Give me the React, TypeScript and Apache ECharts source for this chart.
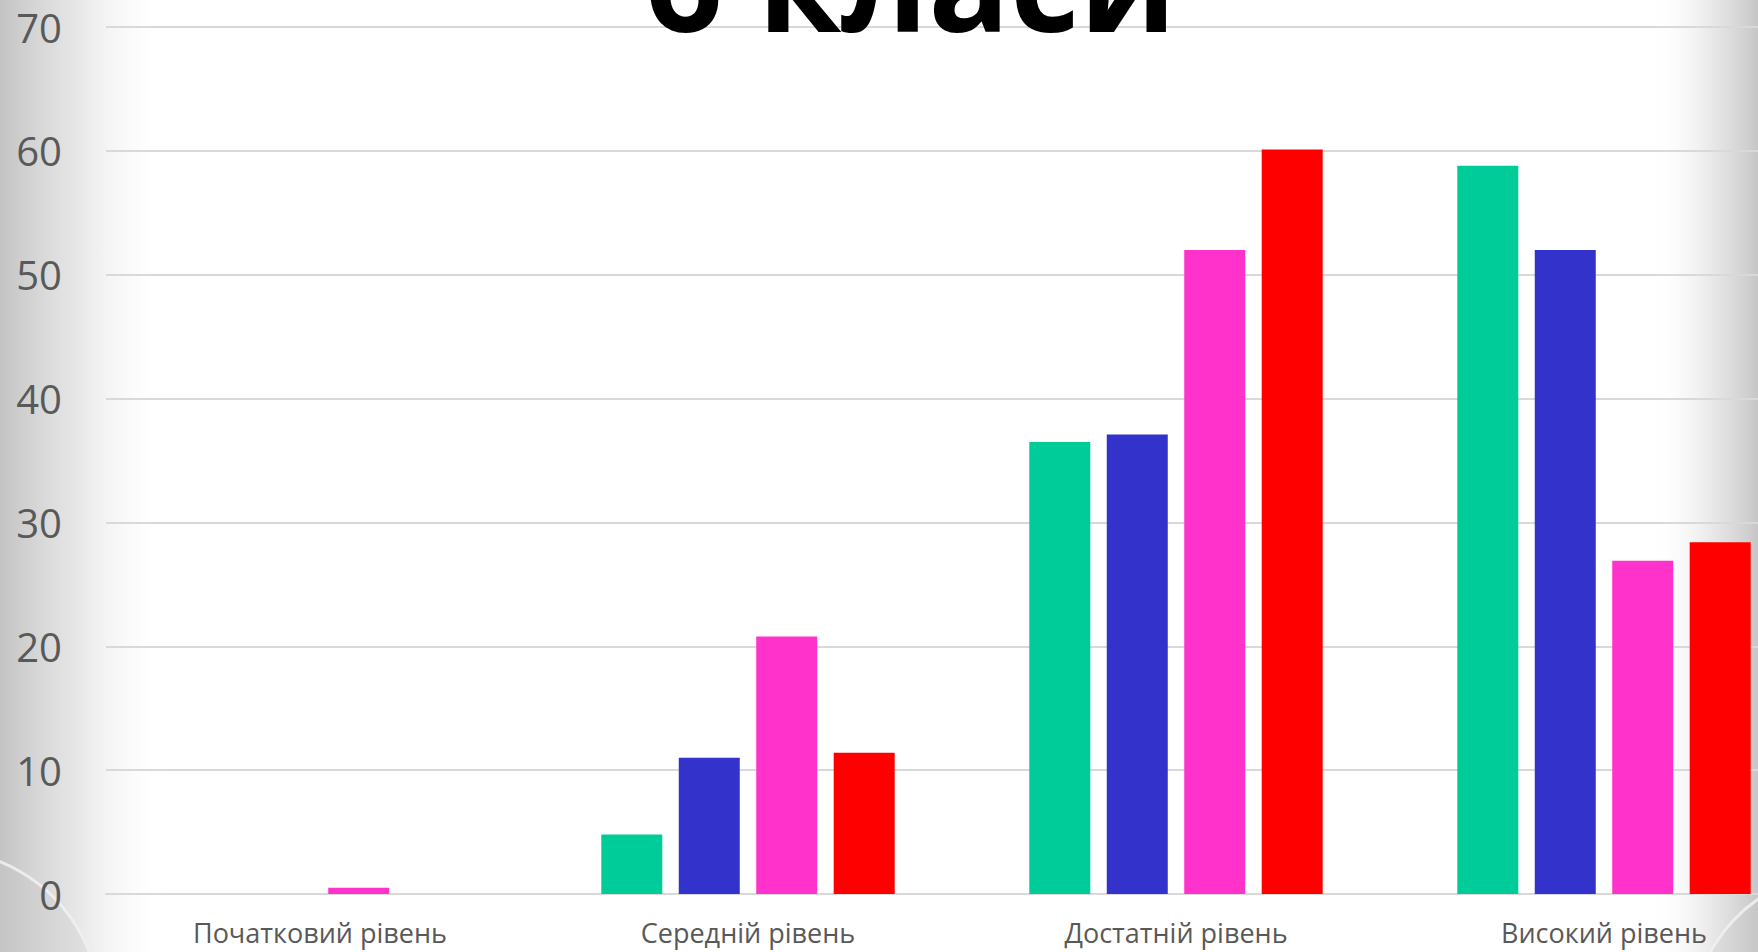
import React, { useEffect, useRef } from "react";
import * as echarts from "echarts";

const categories = ["Початковий рівень", "Середній рівень", "Достатній рівень", "Високий рівень"];
const seriesA = [0, 4.8, 36.5, 58.8];
const seriesB = [0, 11.0, 37.1, 52.0];
const seriesC = [0.5, 20.8, 52.0, 26.9];
const seriesD = [0, 11.4, 60.1, 28.4];
const seriesNames = ["Ряд 1", "Ряд 2", "Ряд 3", "Ряд 4"];
const colors = ["#00CC99", "#3333CC", "#FF33CC", "#FF0000"];
const titleText = "6 класи";

export default function App() {
  const ref = useRef<HTMLDivElement>(null);
  useEffect(() => {
    if (!ref.current) return;
    const chart = echarts.init(ref.current, undefined, { renderer: "svg" });
    const data = [seriesA, seriesB, seriesC, seriesD];
    chart.setOption({
      animation: false,
      backgroundColor: "#ffffff",
      graphic: [
        {
          type: "rect",
          z: -10,
          silent: true,
          shape: { x: 0, y: 0, width: 170, height: 952 },
          style: {
            fill: new echarts.graphic.LinearGradient(0, 0, 1, 0, [
              { offset: 0, color: "rgba(192,192,192,0.95)" },
              { offset: 0.45, color: "rgba(220,220,220,0.7)" },
              { offset: 1, color: "rgba(255,255,255,0)" },
            ]),
          },
        },
        {
          type: "rect",
          z: -10,
          silent: true,
          shape: { x: 1650, y: 0, width: 108, height: 952 },
          style: {
            fill: new echarts.graphic.LinearGradient(0, 0, 1, 0, [
              { offset: 0, color: "rgba(255,255,255,0)" },
              { offset: 0.6, color: "rgba(220,220,220,0.7)" },
              { offset: 1, color: "rgba(195,195,195,0.95)" },
            ]),
          },
        },
        {
          type: "circle",
          z: -8,
          silent: true,
          shape: { cx: -60, cy: 1010, r: 160 },
          style: { fill: "rgba(200,200,200,0.3)", stroke: "rgba(240,240,240,0.9)", lineWidth: 3 },
        },
        {
          type: "circle",
          z: -8,
          silent: true,
          shape: { cx: 1850, cy: 1030, r: 160 },
          style: { fill: "rgba(200,200,200,0.3)", stroke: "rgba(240,240,240,0.9)", lineWidth: 3 },
        },
        {
          type: "text",
          z: 10,
          style: {
            text: titleText,
            x: 911,
            y: 47,
            align: "center",
            verticalAlign: "bottom",
            fontFamily: "Open Sans",
            fontWeight: "bold",
            fontSize: 135,
            fill: "#000000",
          },
        },
      ],
      grid: { left: 106, top: 27, width: 1712, height: 867, containLabel: false },
      xAxis: {
        type: "category",
        data: categories,
        axisLine: { show: true, lineStyle: { color: "#d9d9d9", width: 2 } },
        axisTick: { show: false },
        axisLabel: {
          color: "#595959",
          fontFamily: "Open Sans",
          fontSize: 27,
          margin: 25,
        },
      },
      yAxis: {
        type: "value",
        min: 0,
        max: 70,
        interval: 10,
        axisLine: { show: false },
        axisTick: { show: false },
        splitLine: { lineStyle: { color: "#d9d9d9", width: 2 } },
        axisLabel: {
          color: "#595959",
          fontFamily: "Open Sans",
          fontSize: 40,
          margin: 44,
        },
      },
      series: data.map((d, i) => ({
        name: seriesNames[i],
        type: "bar",
        data: d,
        barWidth: 61,
        barGap: "27%",
        itemStyle: { color: colors[i] },
      })),
    });
    return () => chart.dispose();
  }, []);
  return (
    <div style={{ width: 1758, height: 952, position: "absolute", left: 0, top: 0, overflow: "hidden" }}>
      <div ref={ref} style={{ width: 1830, height: 952 }} />
    </div>
  );
}
